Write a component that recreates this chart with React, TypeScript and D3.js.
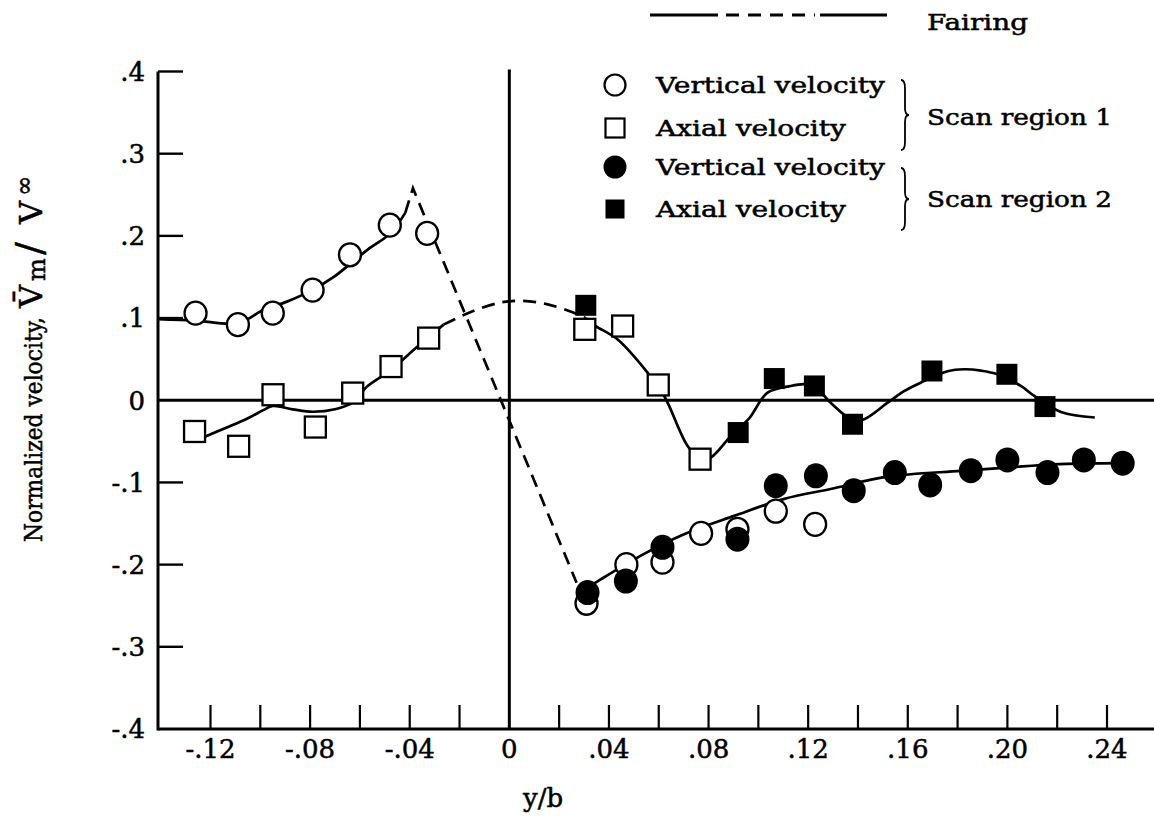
import * as d3 from "d3";

// tick positions and labels
const xTickValues = [-0.12, -0.1, -0.08, -0.06, -0.04, -0.02, 0.02, 0.04, 0.06, 0.08, 0.1, 0.12, 0.14, 0.16, 0.18, 0.2, 0.22, 0.24];
const xLabelValues = [-0.12, -0.08, -0.04, 0, 0.04, 0.08, 0.12, 0.16, 0.2, 0.24];
const xTickLabels = ["-.12", "-.08", "-.04", "0", ".04", ".08", ".12", ".16", ".20", ".24"];
const yTickValues = [0.4, 0.3, 0.2, 0.1, -0.1, -0.2, -0.3];
const yLabelValues = [0.4, 0.3, 0.2, 0.1, 0, -0.1, -0.2, -0.3, -0.4];
const yTickLabels = [".4", ".3", ".2", ".1", "0", "-.1", "-.2", "-.3", "-.4"];

// measured points [y/b, Vm/Vinf]
const region1Vertical: [number, number][] = [
  [-0.126, 0.106], [-0.109, 0.092], [-0.095, 0.106], [-0.079, 0.134], [-0.064, 0.177],
  [-0.048, 0.213], [-0.033, 0.203], [0.031, -0.247], [0.047, -0.2], [0.0615, -0.197],
  [0.077, -0.162], [0.0916, -0.157], [0.107, -0.135], [0.1228, -0.151],
];
const region1Axial: [number, number][] = [
  [-0.1264, -0.038], [-0.1087, -0.056], [-0.0949, 0.0067], [-0.0779, -0.0326], [-0.0629, 0.0087],
  [-0.0475, 0.041], [-0.0324, 0.0756], [0.0303, 0.0863], [0.0455, 0.0903], [0.0598, 0.0186],
  [0.0766, -0.0717],
];
const region2Vertical: [number, number][] = [
  [0.0314, -0.234], [0.0468, -0.22], [0.0615, -0.179], [0.0916, -0.169], [0.107, -0.104],
  [0.1231, -0.092], [0.1383, -0.11], [0.1548, -0.088], [0.169, -0.103], [0.1853, -0.0857],
  [0.2, -0.0726], [0.2161, -0.088], [0.2307, -0.0726], [0.2463, -0.0766],
];
const region2Axial: [number, number][] = [
  [0.0307, 0.1155], [0.0919, -0.0393], [0.1064, 0.0264], [0.1225, 0.0174], [0.1378, -0.0292],
  [0.1697, 0.0356], [0.1998, 0.0316], [0.2151, -0.0077],
];

// fairing curves
const fairVerticalLeft: [number, number][] = [
  [-0.1411, 0.0987], [-0.126, 0.097], [-0.109, 0.094], [-0.0986, 0.11], [-0.0893, 0.12],
  [-0.0792, 0.134], [-0.0705, 0.15], [-0.057, 0.183], [-0.0478, 0.203], [-0.0418, 0.228],
];
const fairVerticalDashed: [number, number][] = [
  [-0.0418, 0.228], [-0.0387, 0.258], [0.027, -0.222],
];
const fairVerticalRight: [number, number][] = [
  [0.0285, -0.234], [0.0367, -0.218], [0.0528, -0.189], [0.0702, -0.163], [0.0903, -0.1407],
  [0.1104, -0.12], [0.129, -0.108], [0.1519, -0.093], [0.1813, -0.086], [0.2, -0.082],
  [0.2187, -0.078], [0.2463, -0.0766],
];
const fairAxialLeft: [number, number][] = [
  [-0.122, -0.044], [-0.105, -0.022], [-0.0988, -0.012], [-0.095, -0.007], [-0.087, -0.011],
  [-0.079, -0.014], [-0.07, -0.011], [-0.063, -0.003], [-0.057, 0.017], [-0.0475, 0.037],
  [-0.037, 0.065], [-0.0264, 0.092],
];
const fairAxialDashed: [number, number][] = [
  [-0.0264, 0.092], [-0.015, 0.108], [-0.0034, 0.119], [0.005, 0.121], [0.015, 0.117],
  [0.0254, 0.107], [0.0305, 0.1],
];
const fairAxialRight: [number, number][] = [
  [0.0305, 0.1], [0.0347, 0.0903], [0.0435, 0.074], [0.0555, 0.0337], [0.0622, 0.0052],
  [0.0716, -0.0556], [0.077, -0.072], [0.0809, -0.0697], [0.089, -0.0434], [0.0963, -0.022],
  [0.1037, 0.0094], [0.113, 0.0174], [0.1184, 0.0195], [0.1225, 0.0174], [0.129, -0.003],
  [0.1378, -0.024], [0.1425, -0.023], [0.1519, -0.003], [0.1585, 0.011], [0.1653, 0.0215],
  [0.176, 0.0353], [0.1827, 0.0377], [0.1894, 0.036], [0.196, 0.0316], [0.2054, 0.0174],
  [0.2108, 0.0052], [0.2215, -0.0142], [0.2351, -0.021],
];

const W = 1154;
const H = 819;
const font = "'DejaVu Serif', serif";

const x = d3.scaleLinear().domain([-0.12, 0.24]).range([210.5, 1107]);
const y = d3.scaleLinear().domain([-0.4, 0.4]).range([729, 71.5]);
const axisLeft = 158;

const smooth = d3.line<[number, number]>()
  .x((d) => x(d[0]))
  .y((d) => y(d[1]))
  .curve(d3.curveCatmullRom.alpha(0.5));
const straight = d3.line<[number, number]>()
  .x((d) => x(d[0]))
  .y((d) => y(d[1]));

// curly brace opening to the right
const brace = (bx: number, y0: number, y1: number, w: number) => {
  const m = (y0 + y1) / 2;
  const h = w * 0.5;
  return `M${bx},${y0} Q${bx + h},${y0} ${bx + h},${y0 + 8} L${bx + h},${m - 7} Q${bx + h},${m} ${bx + w},${m} Q${bx + h},${m} ${bx + h},${m + 7} L${bx + h},${y1 - 8} Q${bx + h},${y1} ${bx},${y1}`;
};

const App = () => {
  const sq = 21;
  return (
    <svg width={W} height={H} style={{ position: "absolute", left: 0, top: 0, background: "#fff" }} fontFamily={font}>
      {/* axes */}
      <line x1={axisLeft} x2={axisLeft} y1={y(0.4)} y2={y(-0.4) + 1.5} stroke="#000" strokeWidth={3} />
      <line x1={axisLeft} x2={W} y1={y(-0.4)} y2={y(-0.4)} stroke="#000" strokeWidth={3} />
      <line x1={axisLeft} x2={W} y1={y(0)} y2={y(0)} stroke="#000" strokeWidth={3} />
      <line x1={x(0)} x2={x(0)} y1={y(0.4) - 2} y2={y(-0.4)} stroke="#000" strokeWidth={3} />
      {yTickValues.map((v) => (
        <line key={"yt" + v} x1={axisLeft} x2={axisLeft + 25} y1={y(v)} y2={y(v)} stroke="#000" strokeWidth={2.4} />
      ))}
      {xTickValues.map((v) => (
        <line key={"xt" + v} x1={x(v)} x2={x(v)} y1={y(-0.4)} y2={y(-0.4) - 24} stroke="#000" strokeWidth={2.2} />
      ))}

      <g stroke="#000" strokeWidth={0.5}>
        {yLabelValues.map((v, i) => (
          <text key={"yl" + v} x={145} y={y(v)} dy="0.36em" textAnchor="end" fontSize={26}>
            {yTickLabels[i]}
          </text>
        ))}
        {xLabelValues.map((v, i) => (
          <text key={"xl" + v} x={x(v)} y={758} textAnchor="middle" fontSize={26}>
            {xTickLabels[i]}
          </text>
        ))}
        <text x={543} y={807} textAnchor="middle" fontSize={26}>y/b</text>

        <g transform="translate(42,542) rotate(-90)">
          <text x={0} y={0} fontSize={25} textLength={225} lengthAdjust="spacingAndGlyphs">Normalized velocity,</text>
          <text x={234} y={0} fontSize={32}>{"V\u0304"}</text>
          <text x={261} y={3} fontSize={24}>m</text>
          <text x={287} y={0} fontSize={38}>/</text>
          <text x={318} y={0} fontSize={32}>V</text>
          <text x={346} y={-10} fontSize={24}>∞</text>
        </g>

        <text x={927} y={30} fontSize={22} textLength={101} lengthAdjust="spacingAndGlyphs">Fairing</text>
        <text x={656} y={93} fontSize={22} textLength={229} lengthAdjust="spacingAndGlyphs">Vertical velocity</text>
        <text x={656} y={136} fontSize={22} textLength={190} lengthAdjust="spacingAndGlyphs">Axial velocity</text>
        <text x={656} y={175} fontSize={22} textLength={229} lengthAdjust="spacingAndGlyphs">Vertical velocity</text>
        <text x={656} y={217} fontSize={22} textLength={190} lengthAdjust="spacingAndGlyphs">Axial velocity</text>
        <text x={927} y={125} fontSize={22} textLength={185} lengthAdjust="spacingAndGlyphs">Scan region 1</text>
        <text x={927} y={207} fontSize={22} textLength={185} lengthAdjust="spacingAndGlyphs">Scan region 2</text>
      </g>

      {/* fairings */}
      <g fill="none" stroke="#000" strokeWidth={2.7}>
        <path d={smooth(fairVerticalLeft) || ""} />
        <path d={straight(fairVerticalDashed) || ""} strokeDasharray="13,8" />
        <path d={smooth(fairVerticalRight) || ""} />
        <path d={smooth(fairAxialLeft) || ""} />
        <path d={smooth(fairAxialDashed) || ""} strokeDasharray="13,8" />
        <path d={smooth(fairAxialRight) || ""} />
      </g>

      {/* markers */}
      {region2Axial.map((d, i) => (
        <rect key={"r2a" + i} x={x(d[0]) - sq / 2} y={y(d[1]) - sq / 2} width={sq} height={sq} fill="#000" />
      ))}
      {region1Axial.map((d, i) => (
        <rect key={"r1a" + i} x={x(d[0]) - sq / 2} y={y(d[1]) - sq / 2} width={sq} height={sq} fill="#fff" stroke="#000" strokeWidth={2.3} />
      ))}
      {region1Vertical.map((d, i) => (
        <ellipse key={"r1v" + i} cx={x(d[0])} cy={y(d[1])} rx={11} ry={11.5} fill="#fff" stroke="#000" strokeWidth={2.3} />
      ))}
      {region2Vertical.map((d, i) => (
        <ellipse key={"r2v" + i} cx={x(d[0])} cy={y(d[1])} rx={12} ry={12.5} fill="#000" />
      ))}

      {/* legend */}
      <line x1={650} x2={718} y1={15} y2={15} stroke="#000" strokeWidth={3} />
      <line x1={726} x2={815} y1={15} y2={15} stroke="#000" strokeWidth={3} strokeDasharray="13,9" />
      <line x1={820} x2={887} y1={15} y2={15} stroke="#000" strokeWidth={3} />

      <circle cx={615} cy={85} r={10.5} fill="#fff" stroke="#000" strokeWidth={2.2} />
      <rect x={605.5} y={118.5} width={19} height={19} fill="#fff" stroke="#000" strokeWidth={2.2} />
      <circle cx={615} cy={167} r={11.5} fill="#000" />
      <rect x={605.5} y={199.5} width={19} height={19} fill="#000" />
      <path d={brace(901, 80, 150, 8)} fill="none" stroke="#000" strokeWidth={1.8} />
      <path d={brace(901, 168, 230, 8)} fill="none" stroke="#000" strokeWidth={1.8} />
    </svg>
  );
};

export default App;
